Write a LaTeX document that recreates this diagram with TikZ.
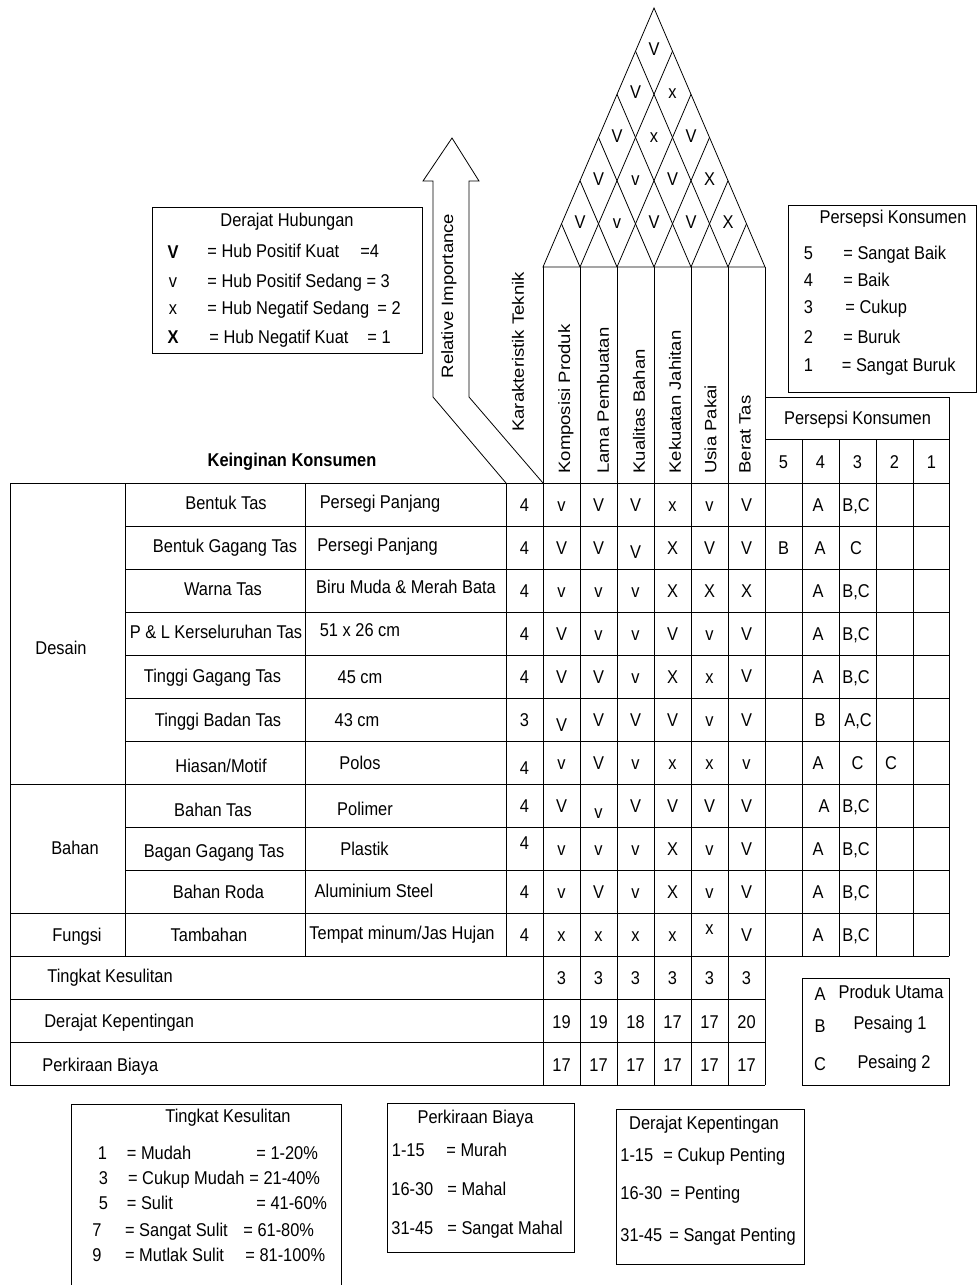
\documentclass[tikz,border=0pt]{standalone}
\usepackage{fontspec}
\setmainfont{Liberation Sans}[FakeStretch=0.887]
\newfontfamily\vfont{Liberation Sans}[FakeStretch=1.128]
\newcommand\fsz{\fontsize{18.5}{21}\selectfont}
\newcommand\vfsz{\vfont\fontsize{16.4}{19}\selectfont}
\begin{document}
\begin{tikzpicture}[x=1pt,y=-1pt,line width=0.8pt,
  t/.style={font=\fsz,inner sep=0pt,anchor=base,yshift=-6.6pt},
  tw/.style={t,anchor=base west},
  tb/.style={t,font=\fsz\bfseries},
  vlab/.style={font=\vfsz,inner sep=0pt,rotate=90,anchor=west},
  vmid/.style={font=\vfsz,inner sep=0pt,rotate=90},
  box/.style={draw,line width=0.8pt}]
\useasboundingbox (0,0) rectangle (978,1285);

% ---------- roof ----------
\draw (543,267) -- (654,8) -- (765,267) -- cycle;
\foreach \k in {1,...,5}{
  \draw (543+37*\k,267) -- ++({111*(1-\k/6)},{-259*(1-\k/6)});
  \draw (543+37*\k,267) -- ++({-111*\k/6},{-259*\k/6});
}
\foreach \a/\b/\s in {1/2/V,2/3/v,3/4/V,4/5/V,5/6/X,
                      1/3/V,2/4/v,3/5/V,4/6/X,
                      1/4/V,2/5/x,3/6/V,
                      1/5/V,2/6/x,
                      1/6/V}
  \node[t] (roof\a\b) at ({543+37*(\a+\b-1)/2},{265-259*(\b-\a)/6}) {\s};

% ---------- technical columns ----------
\foreach \k in {0,...,6} \draw (543+37*\k,267) -- (543+37*\k,1085);
\node[vlab] (tk1) at (566,474) {Komposisi Produk};
\node[vlab] (tk2) at (603,474) {Lama Pembuatan};
\node[vlab] (tk3) at (639,474) {Kualitas Bahan};
\node[vlab] (tk4) at (675,474) {Kekuatan Jahitan};
\node[vlab] (tk5) at (710.5,474) {Usia Pakai};
\node[vlab] (tk6) at (745,474) {Berat Tas};

% ---------- relative importance arrow ----------
\draw (506,483) -- (433,397) -- (433,181) -- (423,181) -- (452,138) -- (479,181)
      -- (469,181) -- (469,397) -- (543,483);
\node[vmid] (ri) at (449,296) {Relative Importance};
\node[vmid] (kt) at (518,352) {Karakteristik Teknik};

% ---------- perception header ----------
\draw (765,397) -- (949,397);
\draw (765,439) -- (949,439);
\draw (949,397) -- (949,956);
\foreach \x in {802,839,876,913} \draw (\x,439) -- (\x,956);
\node[t] (pkh) at (857.5,418) {Persepsi Konsumen};
\foreach \n [count=\i] in {5,4,3,2,1}
  \node[t] (pn\n) at ({783.5+37*(\i-1)},461.5) {\n};

% ---------- main table grid ----------
\draw (10,483) -- (949,483);
\foreach \y in {526,569,612,655,698,741,827,870} \draw (125,\y) -- (949,\y);
\foreach \y in {784,913,956} \draw (10,\y) -- (949,\y);
\foreach \y in {999,1042,1085} \draw (10,\y) -- (765,\y);
\draw (10,483) -- (10,1085);
\foreach \x in {125,305,506} \draw (\x,483) -- (\x,956);

\node[tb] (kk) at (292,460) {Keinginan Konsumen};

% group labels
\node[t] (gDesain) at (61,648) {Desain};
\node[t] (gBahan) at (75,848) {Bahan};
\node[t] (gFungsi) at (77,935) {Fungsi};

% customer requirements
\node[t] (c1) at (226,503) {Bentuk Tas};
\node[t] (c2) at (225,546) {Bentuk Gagang Tas};
\node[t] (c3) at (223,589) {Warna Tas};
\node[t] (c4) at (216,632) {P \& L Kerseluruhan Tas};
\node[t] (c5) at (212.5,676) {Tinggi Gagang Tas};
\node[t] (c6) at (218,720) {Tinggi Badan Tas};
\node[t] (c7) at (221,766) {Hiasan/Motif};
\node[t] (c8) at (213,810) {Bahan Tas};
\node[t] (c9) at (214,851) {Bagan Gagang Tas};
\node[t] (c10) at (218.5,892) {Bahan Roda};
\node[t] (c11) at (209,935) {Tambahan};

\node[t] (d1) at (380,502) {Persegi Panjang};
\node[t] (d2) at (377.5,545) {Persegi Panjang};
\node[t] (d3) at (406,587) {Biru Muda \& Merah Bata};
\node[t] (d4) at (360,630) {51 x 26 cm};
\node[t] (d5) at (360,677) {45 cm};
\node[t] (d6) at (357,720) {43 cm};
\node[t] (d7) at (360,763) {Polos};
\node[t] (d8) at (365,809) {Polimer};
\node[t] (d9) at (364.5,849) {Plastik};
\node[t] (d10) at (374,891) {Aluminium Steel};
\node[t] (d11) at (402,933) {Tempat minum/Jas Hujan};

% importance + relationship matrix
\foreach \r/\imp/\di/\vals in {
  1/4/0/{v/0,V/0,V/0,x/0,v/0,V/0},
  2/4/0/{V/0,V/0,V/4,X/0,V/0,V/0},
  3/4/0/{v/0,v/0,v/0,X/0,X/0,X/0},
  4/4/0/{V/0,v/0,v/0,V/0,v/0,V/0},
  5/4/0/{V/0,V/0,v/0,X/0,x/0,V/-1},
  6/3/0/{V/5,V/0,V/0,V/0,v/0,V/0},
  7/4/5/{v/0,V/0,v/0,x/0,x/0,v/0},
  8/4/0/{V/0,v/6,V/0,V/0,V/0,V/0},
  9/4/-6/{v/0,v/0,v/0,X/0,v/0,V/0},
  10/4/0/{v/0,V/0,v/0,X/0,v/0,V/0},
  11/4/0/{x/0,x/0,x/0,x/0,x/-7,V/0}}
{
  \pgfmathsetmacro\yc{504.5+43*(\r-1)}
  \node[t] (imp\r) at (524.5,\yc+\di) {\imp};
  \foreach \s/\d [count=\c] in \vals
    \node[t] (m\r-\c) at ({561.5+37*(\c-1)},\yc+\d) {\s};
}

% competitive perception
\foreach \r in {1,3,4,5,9,10,11}{
  \pgfmathsetmacro\yc{504.5+43*(\r-1)}
  \node[t] (pa\r) at (818,\yc) {A};
  \node[t] (pbc\r) at (856,\yc) {B,C};
}
\node[t] (pb2) at (783.5,547.5) {B};
\node[t] (pa2) at (820,547.5) {A};
\node[t] (pc2) at (856,547.5) {C};
\node[t] (pb6) at (820,719.5) {B};
\node[t] (pac6) at (858,719.5) {A,C};
\node[t] (pa7) at (818,762.5) {A};
\node[t] (pc7) at (857.5,762.5) {C};
\node[t] (pc7b) at (891,762.5) {C};
\node[t] (pa8) at (824,805.5) {A};
\node[t] (pbc8) at (856,805.5) {B,C};

% bottom rows
\node[tw] (tkl) at (47,976) {Tingkat Kesulitan};
\node[tw] (dkl) at (44,1021) {Derajat Kepentingan};
\node[tw] (pbl) at (42,1065) {Perkiraan Biaya};
\foreach \v [count=\c] in {3,3,3,3,3,3}
  \node[t] (tk-\c) at ({561.5+37*(\c-1)},978) {\v};
\foreach \v [count=\c] in {19,19,18,17,17,20}
  \node[t] (dk-\c) at ({561.5+37*(\c-1)},1022) {\v};
\foreach \v [count=\c] in {17,17,17,17,17,17}
  \node[t] (pb-\c) at ({561.5+37*(\c-1)},1065) {\v};

% ---------- legend: Derajat Hubungan ----------
\draw[box] (152,207) rectangle (422,353);
\node[t] (dhT) at (287,220) {Derajat Hubungan};
\node[tb] (dh1s) at (173,252) {V};
\node[tw] (dh1) at (207,251) {= Hub Positif Kuat};
\node[tw] (dh1n) at (360,251) {=4};
\node[t] (dh2s) at (173,281) {v};
\node[tw] (dh2) at (207,281) {= Hub Positif Sedang = 3};
\node[t] (dh3s) at (173,308) {x};
\node[tw] (dh3) at (207,308) {= Hub Negatif Sedang};
\node[tw] (dh3n) at (377,308) {= 2};
\node[tb] (dh4s) at (173,337) {X};
\node[tw] (dh4) at (209,337) {= Hub Negatif Kuat};
\node[tw] (dh4n) at (367,337) {= 1};

% ---------- legend: Persepsi Konsumen ----------
\draw[box] (788,205) rectangle (976,392);
\node[t] (psT) at (893,217) {Persepsi Konsumen};
\foreach \n/\y/\tx/\txt in {5/253/843/{= Sangat Baik},4/280/843/{= Baik},3/307/845/{= Cukup},2/337/843/{= Buruk},1/365/841.5/{= Sangat Buruk}}{
  \node[t] (psn\n) at (808.5,\y) {\n};
  \node[tw] (pst\n) at (\tx,\y) {\txt};
}

% ---------- legend: A B C ----------
\draw[box] (802,978) rectangle (949,1085);
\node[t] (lA) at (820,994) {A};
\node[t] (lAt) at (891,992) {Produk Utama};
\node[t] (lB) at (820,1026) {B};
\node[t] (lBt) at (890,1023) {Pesaing 1};
\node[t] (lC) at (820,1064) {C};
\node[t] (lCt) at (894,1062) {Pesaing 2};

% ---------- legend: Tingkat Kesulitan ----------
\draw[box] (71,1285) -- (71,1104) -- (341,1104) -- (341,1285);
\node[t] (tkT) at (228,1116) {Tingkat Kesulitan};
\foreach \n/\nx/\y/\ax/\a/\bx/\b in {
   1/102.5/1153/126.5/{= Mudah}/256/{= 1-20\%},
   3/103.5/1178/127.7/{= Cukup Mudah}/249/{= 21-40\%},
   5/103.5/1203/126.5/{= Sulit}/256/{= 41-60\%},
   7/97/1230/124.7/{= Sangat Sulit}/243/{= 61-80\%},
   9/97/1255/124.7/{= Mutlak Sulit}/245/{= 81-100\%}}{
  \node[t] (tkn\n) at (\nx,\y) {\n};
  \node[tw] (tka\n) at (\ax,\y) {\a};
  \node[tw] (tkb\n) at (\bx,\y) {\b};
}

% ---------- legend: Perkiraan Biaya ----------
\draw[box] (387,1103) rectangle (574,1252);
\node[t] (pbT) at (475.5,1117) {Perkiraan Biaya};
\node[tw] (pb1a) at (391.5,1150) {1-15};
\node[tw] (pb1b) at (446,1150) {= Murah};
\node[tw] (pb2a) at (391,1189) {16-30};
\node[tw] (pb2b) at (447,1189) {= Mahal};
\node[tw] (pb3a) at (391,1228) {31-45};
\node[tw] (pb3b) at (447,1228) {= Sangat Mahal};

% ---------- legend: Derajat Kepentingan ----------
\draw[box] (616,1109) rectangle (804,1264);
\node[t] (dkT) at (704,1123) {Derajat Kepentingan};
\node[tw] (dk1a) at (620,1155) {1-15};
\node[tw] (dk1b) at (663,1155) {= Cukup Penting};
\node[tw] (dk2a) at (620,1193) {16-30};
\node[tw] (dk2b) at (670,1193) {= Penting};
\node[tw] (dk3a) at (620,1235) {31-45};
\node[tw] (dk3b) at (669,1235) {= Sangat Penting};
\end{tikzpicture}
\end{document}
